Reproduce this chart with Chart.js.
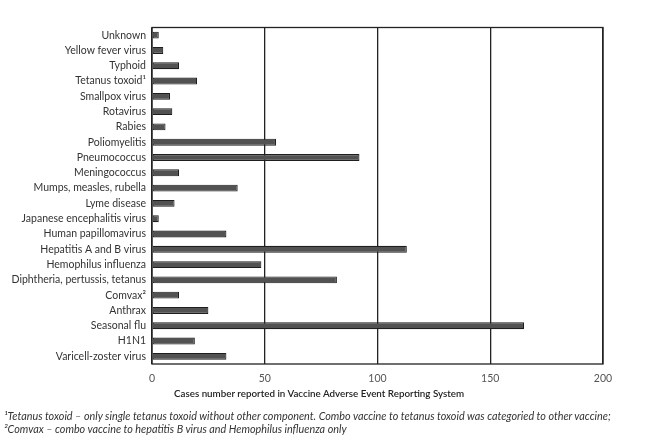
<!DOCTYPE html>
<html>
<head>
<meta charset="utf-8">
<script src="https://cdn.jsdelivr.net/npm/chart.js@4.4.1/dist/chart.umd.min.js"></script>
<style>
  html, body { margin: 0; padding: 0; background: #fff; }
  #wrap { position: relative; width: 651px; height: 440px; overflow: hidden; }
  #box { position: absolute; left: 0; top: 0; width: 651px; height: 400px; }
  .note { position: absolute; left: 4px; font-family: Lato, sans-serif; font-style: italic;
          font-size: 10.8px; line-height: 13px; color: #333; white-space: nowrap; }
  #xtitle { position: absolute; left: 174px; top: 386px; font-family: Lato, sans-serif;
            font-size: 9.8px; font-weight: 600; line-height: 14px; color: #222; white-space: nowrap; }
</style>
</head>
<body>
<div id="wrap">
  <div id="box"><canvas id="vaers-chart"></canvas></div>
  <div id="xtitle"></div>
  <div class="note" style="top:409px">¹Tetanus toxoid – only single tetanus toxoid without other component. Combo vaccine to tetanus toxoid was categoried to other vaccine;</div>
  <div class="note" style="top:422px">²Comvax – combo vaccine to hepatitis B virus and Hemophilus influenza only</div>
</div>
<script>
// vaccine categories, top to bottom
const vaccines = [
    'Unknown', 'Yellow fever virus', 'Typhoid', 'Tetanus toxoid¹', 'Smallpox virus',
    'Rotavirus', 'Rabies', 'Poliomyelitis', 'Pneumococcus', 'Meningococcus',
    'Mumps, measles, rubella', 'Lyme disease', 'Japanese encephalitis virus',
    'Human papillomavirus', 'Hepatitis A and B virus', 'Hemophilus influenza',
    'Diphtheria, pertussis, tetanus', 'Comvax²', 'Anthrax', 'Seasonal flu', 'H1N1',
    'Varicell-zoster virus'
];
const cases = [3, 5, 12, 20, 8, 9, 6, 55, 92, 12, 38, 10, 3, 33, 113, 48.5, 82, 12, 25, 165, 19, 33];
const xTicks = [0, 50, 100, 150, 200];
const xTitle = 'Cases number reported in Vaccine Adverse Event Reporting System';

document.getElementById('xtitle').textContent = xTitle;

// closed frame round the plot area
const frame = {
    id: 'frame',
    afterDatasetsDraw(chart) {
        const a = chart.chartArea;
        const c = chart.ctx;
        c.save();
        c.strokeStyle = '#222';
        c.lineWidth = 1.3;
        c.strokeRect(a.left, a.top, a.right - a.left, a.bottom - a.top);
        c.restore();
    }
};

const ctx = document.getElementById('vaers-chart');
new Chart(ctx, {
    type: 'bar',
    data: {
        labels: vaccines,
        datasets: [{
            data: cases,
            backgroundColor: '#525252',
            borderColor: '#1e1e1e',
            borderWidth: 1.1,
            borderSkipped: false,
            categoryPercentage: 1,
            barPercentage: 0.45
        }]
    },
    options: {
        indexAxis: 'y',
        responsive: true,
        maintainAspectRatio: false,
        animation: false,
        layout: { padding: { top: 27.5, right: 48, bottom: 0, left: 0 } },
        plugins: {
            legend: { display: false },
            tooltip: { enabled: false }
        },
        scales: {
            x: {
                min: 0,
                max: 200,
                afterBuildTicks: s => { s.ticks = xTicks.map(v => ({ value: v })); },
                afterFit: s => { s.height = 36; },
                grid: { color: '#222', lineWidth: 1.3, drawTicks: false },
                border: { display: false },
                ticks: { color: '#555', padding: 8, font: { family: 'Lato', size: 10.5 } }
            },
            y: {
                afterFit: s => { s.width = 152; },
                grid: { display: false, drawTicks: false },
                border: { display: false },
                ticks: { color: '#333', padding: 6, autoSkip: false, font: { family: 'Lato', size: 10.5 } }
            }
        }
    },
    plugins: [frame]
});
</script>
</body>
</html>
